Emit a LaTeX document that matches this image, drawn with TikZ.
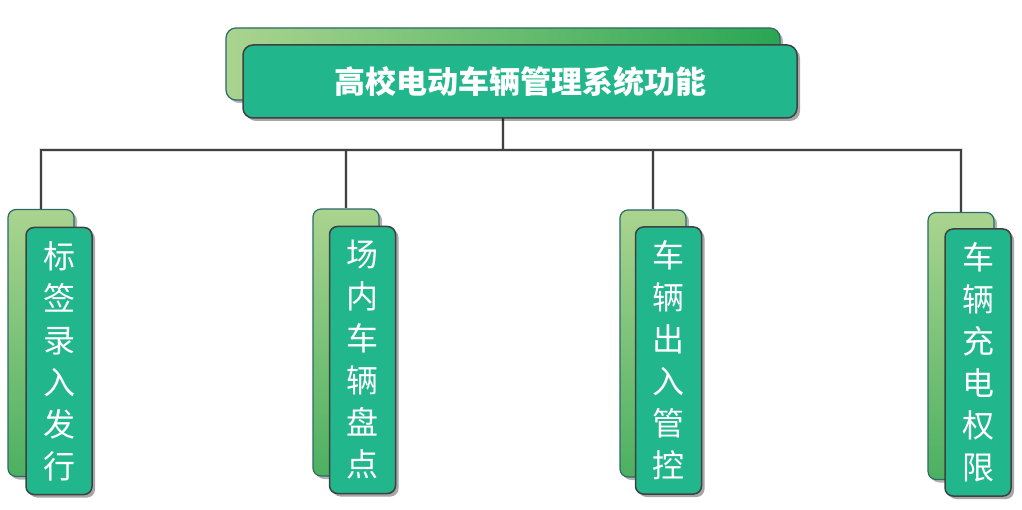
\documentclass[tikz,border=0pt]{standalone}
\usepackage{fontspec}
\newfontfamily\cjk{Noto Sans CJK SC}
\usetikzlibrary{shadows,calc,backgrounds}
\definecolor{frontfill}{RGB}{34,182,140}
\definecolor{frontdraw}{RGB}{64,64,64}
\definecolor{backdraw}{RGB}{45,105,105}
\definecolor{lightg}{RGB}{170,212,143}
\definecolor{darkg}{RGB}{42,166,83}
\definecolor{midg}{RGB}{76,176,97}
\definecolor{linec}{RGB}{64,64,64}
\tikzset{
  frontbox/.style={draw=frontdraw, line width=1.5pt, fill=frontfill, rounded corners=8pt,
    text=white, font=\cjk, inner sep=0pt,
    drop shadow={shadow xshift=3pt, shadow yshift=-3pt, opacity=0.35, fill=black}},
  backbox/.style={draw=backdraw, line width=1.2pt, rounded corners=8pt, inner sep=0pt,
    drop shadow={shadow xshift=3pt, shadow yshift=-3pt, opacity=0.3, fill=black}},
  childfront/.style={frontbox, minimum width=66pt, minimum height=267pt, align=center,
    font=\cjk\fontsize{32pt}{42pt}\selectfont},
  childback/.style={backbox, minimum width=66pt, minimum height=267pt,
    top color=lightg, bottom color=midg},
  conn/.style={draw=linec, line width=1.8pt},
  connshadow/.style={draw=black, opacity=0.12, line width=4pt}
}
\begin{document}
\begin{tikzpicture}[x=1pt,y=-1pt]
% top
\node[backbox, minimum width=554pt, minimum height=72pt, rounded corners=10pt,
  left color=lightg, right color=darkg] (topb) at (503,64) {};
\node[frontbox, minimum width=554pt, minimum height=73pt, rounded corners=10pt,
  font=\cjk\bfseries\fontsize{31pt}{36pt}\selectfont] (topf) at (520,81.5) {高校电动车辆管理系统功能};
\coordinate (bus) at (503,150);
\coordinate (stem) at (503,118);
% children
\node[childback] (c1b) at (41,343) {};
\node[childback] (c2b) at (346,342.5) {};
\node[childback] (c3b) at (653,343.5) {};
\node[childback] (c4b) at (961,346) {};
\node[childfront] (c1f) at (59,361) {标\\签\\录\\入\\发\\行};
\node[childfront] (c2f) at (362.5,360) {场\\内\\车\\辆\\盘\\点};
\node[childfront] (c3f) at (668.5,360.5) {车\\辆\\出\\入\\管\\控};
\node[childfront] (c4f) at (978,362.5) {车\\辆\\充\\电\\权\\限};
% connectors behind boxes
\begin{scope}[on background layer]
\useasboundingbox[fill=white] (0,0) rectangle (1022,510);
\begin{scope}[shift={(1.5,3)}]
\path[connshadow] (stem) -- (bus);
\path[connshadow] (c1b.north) -- (c1b.north |- bus) -- (c4b.north |- bus) -- (c4b.north);
\path[connshadow] (c2b.north |- bus) -- (c2b.north);
\path[connshadow] (c3b.north |- bus) -- (c3b.north);
\end{scope}
\path[conn] (stem) -- (bus);
\path[conn] (c1b.north) -- (c1b.north |- bus) -- (c4b.north |- bus) -- (c4b.north);
\path[conn] (c2b.north |- bus) -- (c2b.north);
\path[conn] (c3b.north |- bus) -- (c3b.north);
\end{scope}
\end{tikzpicture}
\end{document}
